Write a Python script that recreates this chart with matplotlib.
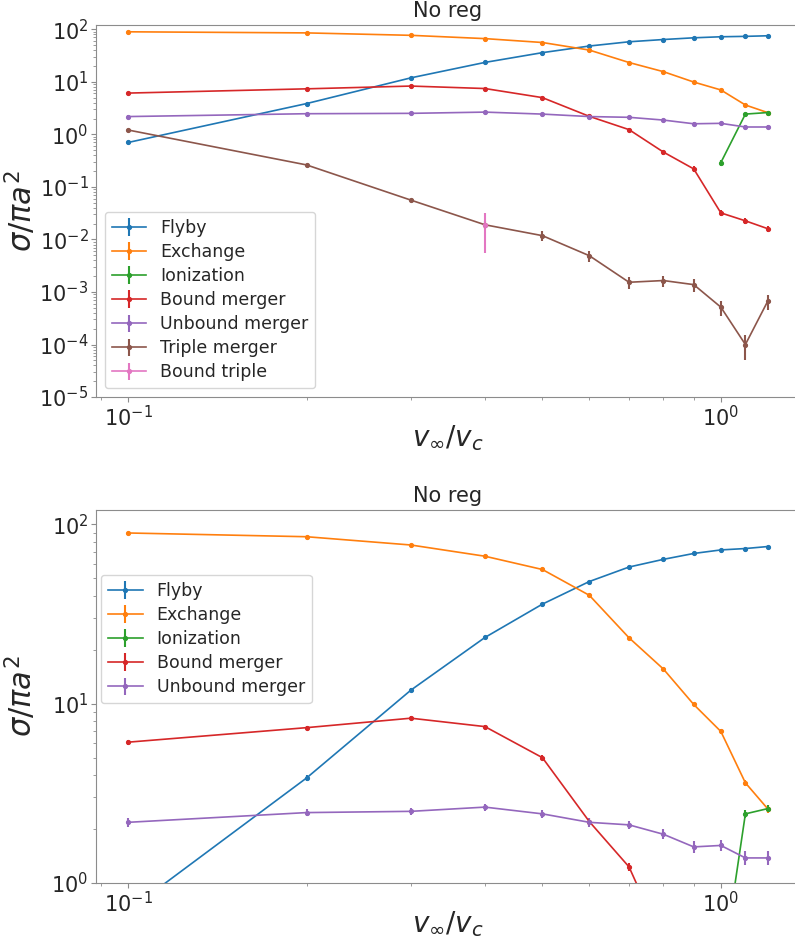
import numpy as np
from matplotlib import pyplot as plt

plt.rcParams['font.family'] = 'DejaVu Sans'
plt.rcParams['text.color'] = '.15'
plt.rcParams['axes.labelcolor'] = '.15'
plt.rcParams['xtick.color'] = '.15'
plt.rcParams['ytick.color'] = '.15'

v = [0.1, 0.2, 0.3, 0.4, 0.5, 0.6, 0.7, 0.8, 0.9, 1.0, 1.1, 1.2]

flyby = [0.70, 3.85, 11.9, 23.4, 35.9, 48.0, 57.8, 63.8, 68.8, 72.0, 73.3, 75.2]
flyby_err = [0.05, 0.15, 0.3, 0.4, 0.5, 0.5, 0.6, 0.6, 0.6, 0.6, 0.6, 0.6]

exchange = [89.5, 85.3, 76.7, 66.4, 56.0, 40.2, 23.3, 15.6, 9.9, 7.0, 3.62, 2.59]
exchange_err = [0.6, 0.6, 0.6, 0.6, 0.5, 0.5, 0.4, 0.3, 0.25, 0.2, 0.15, 0.12]

v_ion = [1.0, 1.1, 1.2]
ionization = [0.29, 2.43, 2.6]
ionization_err = [0.04, 0.12, 0.12]

bound_merger = [6.1, 7.35, 8.3, 7.45, 5.0, 2.2, 1.23, 0.46, 0.22, 0.032, 0.0226, 0.016]
bound_merger_err = [0.18, 0.2, 0.2, 0.2, 0.16, 0.1, 0.07, 0.05, 0.03, 0.004, 0.003, 0.002]

unbound_merger = [2.18, 2.47, 2.51, 2.65, 2.43, 2.18, 2.11, 1.87, 1.59, 1.62, 1.38, 1.38]
unbound_merger_err = [0.12] * 12

triple_merger = [1.21, 0.262, 0.056, 0.019, 0.0118, 0.0049, 0.00153, 0.00165, 0.00138, 0.000514, 0.0001, 0.00067]
triple_merger_err = [0.03, 0.01, 0.003, 0.003, 0.0025, 0.0012, 0.0004, 0.0004, 0.0004, 0.00017, 0.00005, 0.00022]

v_triple = [0.4]
bound_triple = [0.019]
bound_triple_err = [0.0135]

series = [
    ('Flyby', v, flyby, flyby_err),
    ('Exchange', v, exchange, exchange_err),
    ('Ionization', v_ion, ionization, ionization_err),
    ('Bound merger', v, bound_merger, bound_merger_err),
    ('Unbound merger', v, unbound_merger, unbound_merger_err),
    ('Triple merger', v, triple_merger, triple_merger_err),
    ('Bound triple', v_triple, bound_triple, bound_triple_err),
]
colors = ['C0', 'C1', 'C2', 'C3', 'C4', 'C5', 'C6']


def cross_section_plot(ax, rows, ylim):
    for (name, x, y, err), c in zip(rows, colors):
        ax.errorbar(x, y, yerr=err, fmt='.-', color=c, ms=5.5, lw=1.2,
                    elinewidth=1.5, label=name)
    ax.set_xscale('log')
    ax.set_yscale('log')
    ax.set_xlim(0.0883, 1.36)
    ax.set_ylim(*ylim)
    ax.set_title('No reg', fontsize=15)
    ax.set_xlabel(r'$v_\infty/v_c$', fontsize=20)
    ax.set_ylabel(r'$\sigma/\pi a^2$', fontsize=22)
    ax.xaxis.set_label_coords(0.5, -0.07)
    ax.yaxis.set_label_coords(-0.082, 0.5)
    ax.tick_params(which='both', labelsize=15, color='.55', pad=2)
    ax.tick_params(which='major', length=3.5)
    ax.tick_params(which='minor', length=2.5)
    for s in ax.spines.values():
        s.set_color('.55')


fig = plt.figure(figsize=(7.95, 9.44), dpi=100)

ax1 = fig.add_axes([0.1208, 0.5794, 0.8855, 0.394])
cross_section_plot(ax1, series, (1e-5, 120))
ax1.legend(loc='lower left', fontsize=12.5, labelspacing=0.35)

ax2 = fig.add_axes([0.1208, 0.0646, 0.8855, 0.395])
cross_section_plot(ax2, series[:5], (1, 120))
ax2.legend(loc='upper left', bbox_to_anchor=(0.007, 0.826), borderaxespad=0,
           fontsize=12.5, labelspacing=0.35)

plt.savefig('out.png', dpi=100)
